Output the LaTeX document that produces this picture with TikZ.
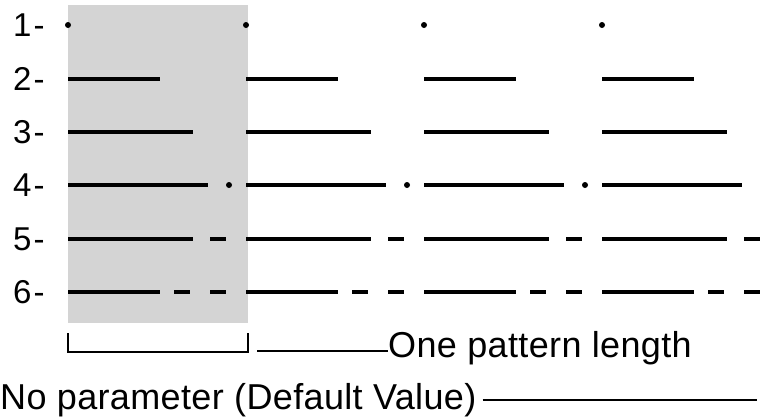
\documentclass[tikz,border=0pt]{standalone}
\usepackage{fontspec}
\setmainfont{Liberation Sans}
\begin{document}
\begin{tikzpicture}[x=1pt,y=-1pt,
  patline/.style={line width=3.2pt, line cap=butt},
  shortline/.style={line width=3.6pt, line cap=butt},
  dotmark/.style={fill=black},
  lbl/.style={inner sep=0pt, font=\fontsize{33}{36}\selectfont},
  txt/.style={inner sep=0pt, font=\fontsize{36}{40}\selectfont\addfontfeature{LetterSpace=1}},
  bracket/.style={line width=2pt}]
\useasboundingbox (0,0) rectangle (760,416);
\begin{scope}
\clip (0,0) rectangle (760,416);
\fill[black!17] (68,5) rectangle (248,323);
\foreach \k in {0,...,3} {
  \pgfmathsetmacro\xo{68+178*\k}
  % row 1
  \fill[dotmark] (\xo,25) circle[radius=3pt];
  % row 2
  \draw[patline] (\xo,79) -- ++(92,0);
  % row 3
  \draw[patline] (\xo,132) -- ++(125,0);
  % row 4
  \draw[patline] (\xo,185) -- ++(140,0);
  \fill[dotmark] (\xo+161,185) circle[radius=3pt];
  % row 5
  \draw[patline] (\xo,239) -- ++(125,0);
  \draw[shortline] (\xo+142,239) -- ++(16,0);
  % row 6
  \draw[patline] (\xo,292) -- ++(92,0);
  \draw[shortline] (\xo+106,292) -- ++(16,0);
  \draw[shortline] (\xo+142,292) -- ++(16,0);
}
\end{scope}
\foreach \n/\y in {1/25,2/79,3/132,4/185,5/239,6/292} {
  \node[lbl, anchor=west] (lab\n) at (13,\y) {\n\kern2pt-};
}
% bracket for one pattern length
\coordinate (bl) at (68,333);
\coordinate (br) at (248,333);
\draw[bracket] (bl) -- (68,352) -- (248,352) -- (br);
\node[txt, anchor=base west] (opl) at (388,357) {One pattern length};
\coordinate (oplstart) at (257,351);
\draw[bracket] (oplstart) -- (opl.west |- oplstart);
% default value
\node[txt, anchor=base west] (np) at (0,409) {No parameter (Default Value)};
\coordinate (npend) at (757,400);
\draw[line width=2.5pt] ([xshift=6pt]np.east |- npend) -- (npend);
\end{tikzpicture}
\end{document}
